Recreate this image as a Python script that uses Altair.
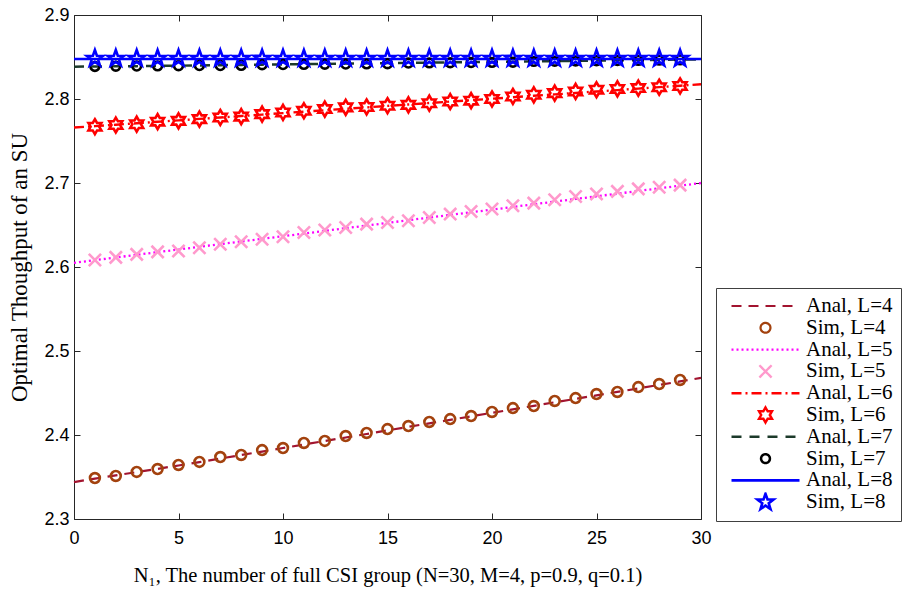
import math
import altair as alt
import pandas as pd

# ---------------- data ----------------
x_anal = list(range(0, 31))
x_sim = list(range(1, 30))

anal_L4 = [2.3440, 2.3480, 2.3520, 2.3558, 2.3597, 2.3637, 2.3678, 2.3720, 2.3762, 2.3803,
           2.3845, 2.3887, 2.3929, 2.3970, 2.4012, 2.4055, 2.4097, 2.4139, 2.4180, 2.4222,
           2.4264, 2.4305, 2.4347, 2.4389, 2.4430, 2.4472, 2.4513, 2.4555, 2.4596, 2.4638, 2.4680]
sim_L4 = [2.3488, 2.3512, 2.3560, 2.3595, 2.3643, 2.3679, 2.3738, 2.3762, 2.3821, 2.3845,
          2.3905, 2.3929, 2.3988, 2.4024, 2.4071, 2.4107, 2.4155, 2.4190, 2.4226, 2.4274,
          2.4321, 2.4345, 2.4405, 2.4440, 2.4488, 2.4512, 2.4571, 2.4607, 2.4655]

anal_L5 = [2.6050, 2.6082, 2.6113, 2.6145, 2.6177, 2.6208, 2.6240, 2.6272, 2.6303, 2.6335,
           2.6367, 2.6398, 2.6430, 2.6462, 2.6493, 2.6525, 2.6557, 2.6588, 2.6620, 2.6652,
           2.6683, 2.6715, 2.6747, 2.6778, 2.6810, 2.6842, 2.6873, 2.6905, 2.6937, 2.6968, 2.7000]
sim_L5 = [2.6083, 2.6115, 2.6150, 2.6180, 2.6190, 2.6230, 2.6270, 2.6300, 2.6330, 2.6360,
          2.6410, 2.6440, 2.6470, 2.6510, 2.6530, 2.6550, 2.6590, 2.6630, 2.6660, 2.6690,
          2.6730, 2.6760, 2.6800, 2.6840, 2.6870, 2.6900, 2.6930, 2.6950, 2.6975]

anal_L6 = [2.7660, 2.7677, 2.7694, 2.7711, 2.7729, 2.7746, 2.7763, 2.7780, 2.7797, 2.7814,
           2.7832, 2.7849, 2.7866, 2.7883, 2.7900, 2.7918, 2.7935, 2.7952, 2.7969, 2.7986,
           2.8003, 2.8021, 2.8038, 2.8055, 2.8072, 2.8089, 2.8106, 2.8124, 2.8141, 2.8158, 2.8175]
sim_L6 = [2.7670, 2.7690, 2.7700, 2.7730, 2.7740, 2.7760, 2.7780, 2.7790, 2.7820, 2.7840,
          2.7860, 2.7880, 2.7900, 2.7905, 2.7920, 2.7930, 2.7950, 2.7970, 2.7980, 2.8000,
          2.8030, 2.8050, 2.8070, 2.8090, 2.8110, 2.8120, 2.8130, 2.8140, 2.8155]

anal_L7 = [2.8385, 2.8387, 2.8389, 2.8391, 2.8394, 2.8397, 2.8400, 2.8403, 2.8406, 2.8409,
           2.8412, 2.8415, 2.8418, 2.8421, 2.8424, 2.8427, 2.8430, 2.8433, 2.8436, 2.8439,
           2.8442, 2.8445, 2.8448, 2.8451, 2.8454, 2.8457, 2.8460, 2.8463, 2.8466, 2.8469, 2.8472]
sim_L7 = [2.8388, 2.8390, 2.8392, 2.8394, 2.8396, 2.8398, 2.8398, 2.8400, 2.8408, 2.8410,
          2.8412, 2.8414, 2.8416, 2.8418, 2.8420, 2.8428, 2.8430, 2.8432, 2.8434, 2.8436,
          2.8438, 2.8448, 2.8450, 2.8453, 2.8456, 2.8458, 2.8460, 2.8463, 2.8466]

anal_L8 = [2.8476] * 31
sim_L8 = [2.8482, 2.8482, 2.8482, 2.8482, 2.8482, 2.8482, 2.8482, 2.8482, 2.8482, 2.8482,
          2.8482, 2.8482, 2.8482, 2.8482, 2.8482, 2.8482, 2.8482, 2.8482, 2.8482, 2.8482,
          2.8482, 2.8482, 2.8482, 2.8482, 2.8482, 2.8482, 2.8482, 2.8482, 2.8482]

labels = ["Anal, L=4", "Sim, L=4", "Anal, L=5", "Sim, L=5", "Anal, L=6",
          "Sim, L=6", "Anal, L=7", "Sim, L=7", "Anal, L=8", "Sim, L=8"]
colors = ["#A2142F", "#A3420E", "#FF00FF", "#FF99CC", "#FF0000",
          "#FF0000", "#1C3A2A", "#000000", "#0000FF", "#0000FF"]
dashes = [[10, 7], [1, 0], [2, 3], [1, 0], [10, 4, 2, 4],
          [1, 0], [10, 8], [1, 0], [1, 0], [1, 0]]
widths = [2.2, 2.6, 2.4, 2.6, 2.2, 2.6, 2.2, 2.6, 2.8, 2.6]

x_ticks = [0, 5, 10, 15, 20, 25, 30]
y_ticks = [2.3, 2.4, 2.5, 2.6, 2.7, 2.8, 2.9]

# ---------------- marker shapes (unit paths, scaled by symbol size) ----------------
def star(n, R, r):
    pts = []
    for k in range(2 * n):
        a = math.radians(-90 + k * 180.0 / n)
        rad = R if k % 2 == 0 else r
        pts.append(f"{rad*math.cos(a):.4f},{rad*math.sin(a):.4f}")
    return "M" + "L".join(pts) + "Z"

def circle(r):
    return f"M{r},0A{r},{r},0,1,1,{-r},0A{r},{r},0,1,1,{r},0Z"

LINE = "M-1,0L1,0"
XMARK = "M-0.18,-0.18L0.18,0.18M-0.18,0.18L0.18,-0.18"
shapes = [LINE, circle(0.145), LINE, XMARK, LINE,
          star(6, 0.22, 0.127), LINE, circle(0.13), LINE, star(5, 0.25, 0.10)]
SYM = 4624  # 68px wide legend/line symbol

# ---------------- tables ----------------
anal_sets = [anal_L4, anal_L5, anal_L6, anal_L7, anal_L8]
sim_sets = [sim_L4, sim_L5, sim_L6, sim_L7, sim_L8]
rows_a, rows_s = [], []
for i in range(5):
    for xv, yv in zip(x_anal, anal_sets[i]):
        rows_a.append({"x": xv, "y": yv, "series": labels[2 * i]})
    for xv, yv in zip(x_sim, sim_sets[i]):
        rows_s.append({"x": xv, "y": yv, "series": labels[2 * i + 1]})
df_a = pd.DataFrame(rows_a)
df_s = pd.DataFrame(rows_s)

W, H = 627, 504

xs = alt.Scale(domain=[0, 30], nice=False, zero=False)
ys = alt.Scale(domain=[2.3, 2.9], nice=False, zero=False)

leg = alt.Legend(
    title=None, orient="none", legendX=642, legendY=273,
    padding=8, symbolOffset=6, labelOffset=5, clipHeight=20, rowPadding=0.8,
    labelFont="Liberation Serif", labelFontSize=21, labelColor="black",
    strokeColor="#404040", fillColor="white",
    symbolSize=SYM, symbolStrokeWidth=2, symbolOpacity=1,
    symbolFillColor="transparent", labelLimit=300,
)

stroke_enc = alt.Stroke("series:N", scale=alt.Scale(domain=labels, range=colors), legend=leg)
dash_enc = alt.StrokeDash("series:N", scale=alt.Scale(domain=labels, range=dashes), legend=leg)
shape_enc = alt.Shape("series:N", scale=alt.Scale(domain=labels, range=shapes), legend=leg)
width_enc = alt.StrokeWidth("series:N", scale=alt.Scale(domain=labels, range=widths), legend=leg)

x_title = "N\u2081, The number of full CSI group (N=30, M=4, p=0.9, q=0.1)"
y_title = "Optimal Thoughput of an SU"

lines = alt.Chart(df_a).mark_line().encode(
    x=alt.X("x:Q", scale=xs, axis=alt.Axis(
        orient="bottom", values=x_ticks, ticks=False, domain=False, grid=False,
        labelFlush=False, labelPadding=10, title=x_title, titlePadding=18,
        titleFontSize=20.5)),
    y=alt.Y("y:Q", scale=ys, axis=alt.Axis(
        orient="left", values=y_ticks, format=".1f", ticks=False, domain=False, grid=False,
        labelFlush=False, labelPadding=5, title=y_title, titlePadding=12,
        titleFontSize=23)),
    stroke=stroke_enc, strokeDash=dash_enc, strokeWidth=width_enc,
)

points = alt.Chart(df_s).mark_point(filled=False, size=SYM, opacity=1, strokeWidth=2.6).encode(
    x=alt.X("x:Q", scale=xs, axis=None),
    y=alt.Y("y:Q", scale=ys, axis=None),
    stroke=stroke_enc, shape=shape_enc,
)

tick_common = dict(labels=False, domain=False, grid=False, ticks=True, tickSize=6,
                   tickColor="#262626", title=None)
ticks_in_1 = alt.Chart(df_a).mark_point(opacity=0).encode(
    x=alt.X("x:Q", scale=xs, axis=alt.Axis(orient="top", offset=-H, values=x_ticks, **tick_common)),
    y=alt.Y("y:Q", scale=ys, axis=alt.Axis(orient="right", offset=-W, values=y_ticks, **tick_common)),
)
ticks_in_2 = alt.Chart(df_a).mark_point(opacity=0).encode(
    x=alt.X("x:Q", scale=xs, axis=alt.Axis(orient="bottom", offset=-H, values=x_ticks, **tick_common)),
    y=alt.Y("y:Q", scale=ys, axis=alt.Axis(orient="left", offset=-W, values=y_ticks, **tick_common)),
)

chart = alt.layer(lines, points, ticks_in_1, ticks_in_2).resolve_axis(
    x="independent", y="independent"
).properties(
    width=W, height=H,
    autosize=alt.AutoSizeParams(type="none"),
    padding={"left": 74, "top": 15, "right": 209, "bottom": 74},
    background="white",
).configure_view(
    stroke="#262626", strokeWidth=1
).configure_axis(
    labelFont="Liberation Sans", labelFontSize=18, labelColor="black",
    titleFont="Liberation Serif", titleFontSize=20, titleFontWeight="normal", titleColor="black",
)

chart.save("out.html", embed_options={"renderer": "svg", "actions": False})
